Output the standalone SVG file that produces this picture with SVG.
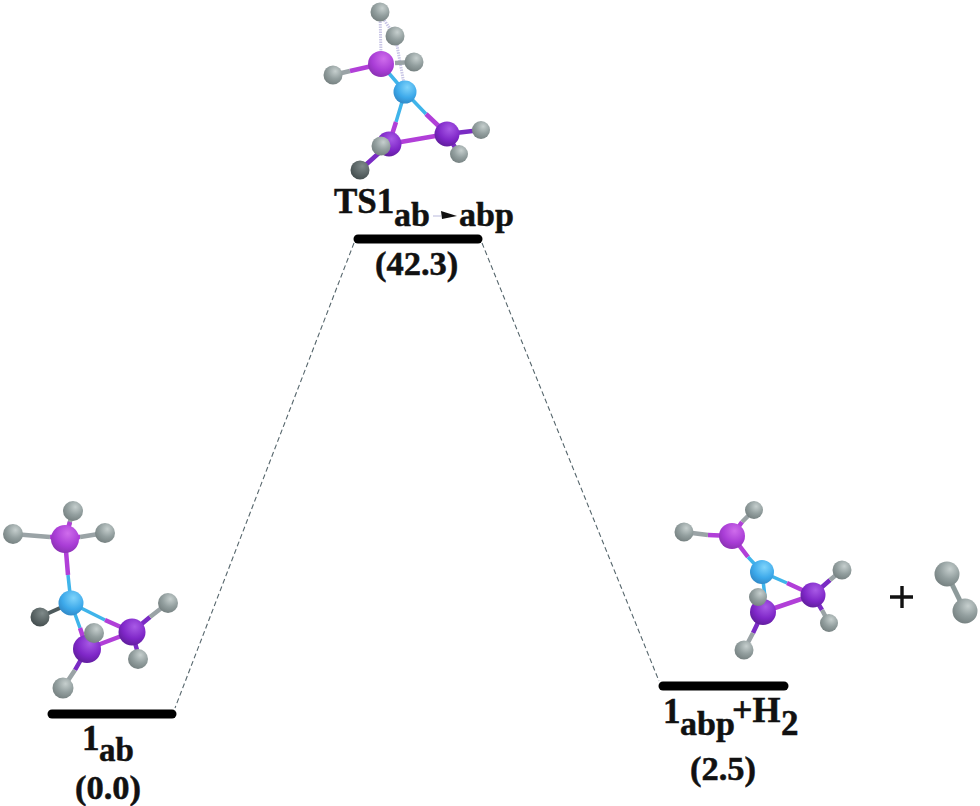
<svg xmlns="http://www.w3.org/2000/svg" width="980" height="806" viewBox="0 0 980 806">
<style>
.t{font-family:"Liberation Serif","Times New Roman",serif;font-weight:bold;fill:#111;stroke:#111;stroke-width:.5}
.l{font-size:35px}.s{font-size:34px}.v{font-size:34.500px}
.bar{stroke:#000;stroke-width:9;stroke-linecap:round;fill:none}
.dash{stroke:#56666c;stroke-width:1.1;stroke-dasharray:5 3;fill:none}
.bh{stroke:#9aa3a6;stroke-width:4.500;fill:none}
.bp{stroke:#b13fd8;stroke-width:4.500;fill:none}
.bb{stroke:#3fb4ea;stroke-width:3.500;fill:none}
.bd{stroke:#7a2bc4;stroke-width:4.500;fill:none}
.ts{stroke:#c9c6e6;stroke-width:3;stroke-dasharray:1.5 1;fill:none}
.h{fill:url(#gh)}.hd{fill:url(#ghd)}.p{fill:url(#gp)}.d{fill:url(#gd)}.b{fill:url(#gb)}
</style>
<defs>
<radialGradient id="gh" cx=".62" cy=".3" r=".8"><stop offset="0" stop-color="#c6cfce"/><stop offset=".5" stop-color="#939f9f"/><stop offset="1" stop-color="#6f7a7a"/></radialGradient>
<radialGradient id="ghd" cx=".62" cy=".3" r=".75"><stop offset="0" stop-color="#7f8a8a"/><stop offset="1" stop-color="#414b4c"/></radialGradient>
<radialGradient id="gp" cx=".6" cy=".3" r=".75"><stop offset="0" stop-color="#cf6cec"/><stop offset=".6" stop-color="#a93dd6"/><stop offset="1" stop-color="#8830b0"/></radialGradient>
<radialGradient id="gd" cx=".6" cy=".3" r=".75"><stop offset="0" stop-color="#a85ae6"/><stop offset=".6" stop-color="#7f27c8"/><stop offset="1" stop-color="#5d1c98"/></radialGradient>
<radialGradient id="gb" cx=".6" cy=".3" r=".75"><stop offset="0" stop-color="#7fd4fb"/><stop offset=".6" stop-color="#3da9ea"/><stop offset="1" stop-color="#2f86c4"/></radialGradient>
</defs>
<g id="connectors">
<path class="dash" d="M354 243L175 708"/>
<path class="dash" d="M482 243L659 681"/>
</g>
<g id="node-ts">
<path class="ts" d="M380 14L381 54M396 40L404 84M380 14L395 36"/>
<path class="bh" d="M333 75L350 71M414 62L395 63"/>
<path class="bp" d="M350 71L381 64"/>
<path class="bb" d="M381 64L405 92M405 92L396 122M405 92L426 114"/>
<path class="bp" d="M396 122L389 144M426 114L447 134M389 144L447 134"/>
<path class="bd" d="M389 144L360 170M447 134L481 130M447 134L459 154"/>
<circle class="h" cx="380" cy="12" r="9.500"/><circle class="h" cx="395" cy="36" r="9.500"/>
<circle class="p" cx="381" cy="64" r="13"/><circle class="h" cx="414" cy="62" r="9.500"/>
<circle class="h" cx="333" cy="75" r="9.500"/><circle class="b" cx="405" cy="92" r="11.500"/>
<circle class="d" cx="389" cy="144" r="12.500"/><circle class="d" cx="447" cy="134" r="12.500"/>
<circle class="h" cx="481" cy="130" r="9"/><circle class="h" cx="459" cy="154" r="9"/>
<circle class="h" cx="381" cy="146" r="9.500"/><circle class="hd" cx="360" cy="170" r="9.500"/>
<path class="bar" d="M358 239H478"/>
<text class="t l" x="334" y="213">TS1</text>
<text class="t s" x="394" y="226">ab</text>
<path d="M433 216H441" stroke="#b9b9dc" stroke-width="1" fill="none"/>
<path d="M441 211L457 216L442 219Z" fill="#111"/>
<text class="t s" x="459" y="226">abp</text>
<text class="t v" x="375" y="275">(42.3)</text>
</g>
<g id="node-1ab">
<path class="bh" d="M73 511L65 539M13 534L50 537M105 533L80 537"/>
<path class="bp" d="M50 537L80 537M65 539L70 522M65 539L68 575"/>
<path class="bb" d="M68 575L71 603M71 603L80 628M71 603L105 620"/>
<path class="bp" d="M80 628L87 649M105 620L132 632M87 649L132 632"/>
<path class="bd" d="M87 649L75 670M132 632L150 617M132 632L137 650"/>
<path class="bh" d="M75 670L63 688M150 617L168 603"/>
<path stroke="#4e5a5c" stroke-width="4" d="M40 617L71 603" fill="none"/>
<circle class="h" cx="73" cy="511" r="10"/><circle class="h" cx="13" cy="534" r="10"/>
<circle class="h" cx="105" cy="533" r="10"/><circle class="p" cx="65" cy="539" r="14"/>
<circle class="b" cx="71" cy="603" r="12.500"/><circle class="hd" cx="40" cy="617" r="9.500"/>
<circle class="d" cx="87" cy="649" r="14"/><circle class="d" cx="132" cy="632" r="13.500"/>
<circle class="h" cx="168" cy="603" r="10"/><circle class="h" cx="94" cy="633" r="10"/>
<circle class="h" cx="138" cy="659" r="10"/><circle class="h" cx="63" cy="688" r="10.500"/>
<path class="bar" d="M52 714H172"/>
<text class="t l" x="82" y="750">1</text>
<text class="t s" x="99" y="761" style="font-size:33px">ab</text>
<text class="t v" x="75" y="799">(0.0)</text>
</g>
<g id="node-1abp">
<path class="bh" d="M684 532L708 535M754 510L742 522"/>
<path class="bp" d="M708 535L732 536M742 522L732 536M732 536L748 557"/>
<path class="bb" d="M748 557L762 572M762 572L787 583M762 572L765 597"/>
<path class="bp" d="M787 583L813 595M763 612L813 595"/>
<path class="bd" d="M763 612L753 633M813 595L830 580M813 595L822 610"/>
<path class="bh" d="M753 633L744 650M830 580L842 570M822 610L829 623"/>
<circle class="h" cx="754" cy="510" r="9"/><circle class="h" cx="684" cy="532" r="9.500"/>
<circle class="p" cx="732" cy="536" r="13"/><circle class="b" cx="762" cy="572" r="12"/>
<circle class="h" cx="842" cy="570" r="9.500"/><circle class="d" cx="813" cy="595" r="12.500"/>
<circle class="d" cx="763" cy="612" r="13"/><circle class="h" cx="758" cy="597" r="9"/>
<circle class="h" cx="829" cy="623" r="9"/><circle class="h" cx="744" cy="650" r="9.500"/>
<path class="bar" d="M663 686H784"/>
<text class="t l" x="663" y="723">1</text>
<text class="t s" x="680" y="735">abp</text>
<text class="t l" x="732" y="722" style="font-size:36px">+H</text>
<text class="t l" x="781" y="735">2</text>
<text class="t v" x="690" y="780">(2.5)</text>
</g>
<g id="node-h2">
<path stroke="#8d9a9a" stroke-width="5" fill="none" d="M947 574L965 611"/>
<circle class="h" cx="947" cy="574" r="12.500"/><circle class="h" cx="965" cy="611" r="12.500"/>
<path stroke="#111" stroke-width="3.400" fill="none" d="M890 597H913M902 586V608"/>
</g>
</svg>
